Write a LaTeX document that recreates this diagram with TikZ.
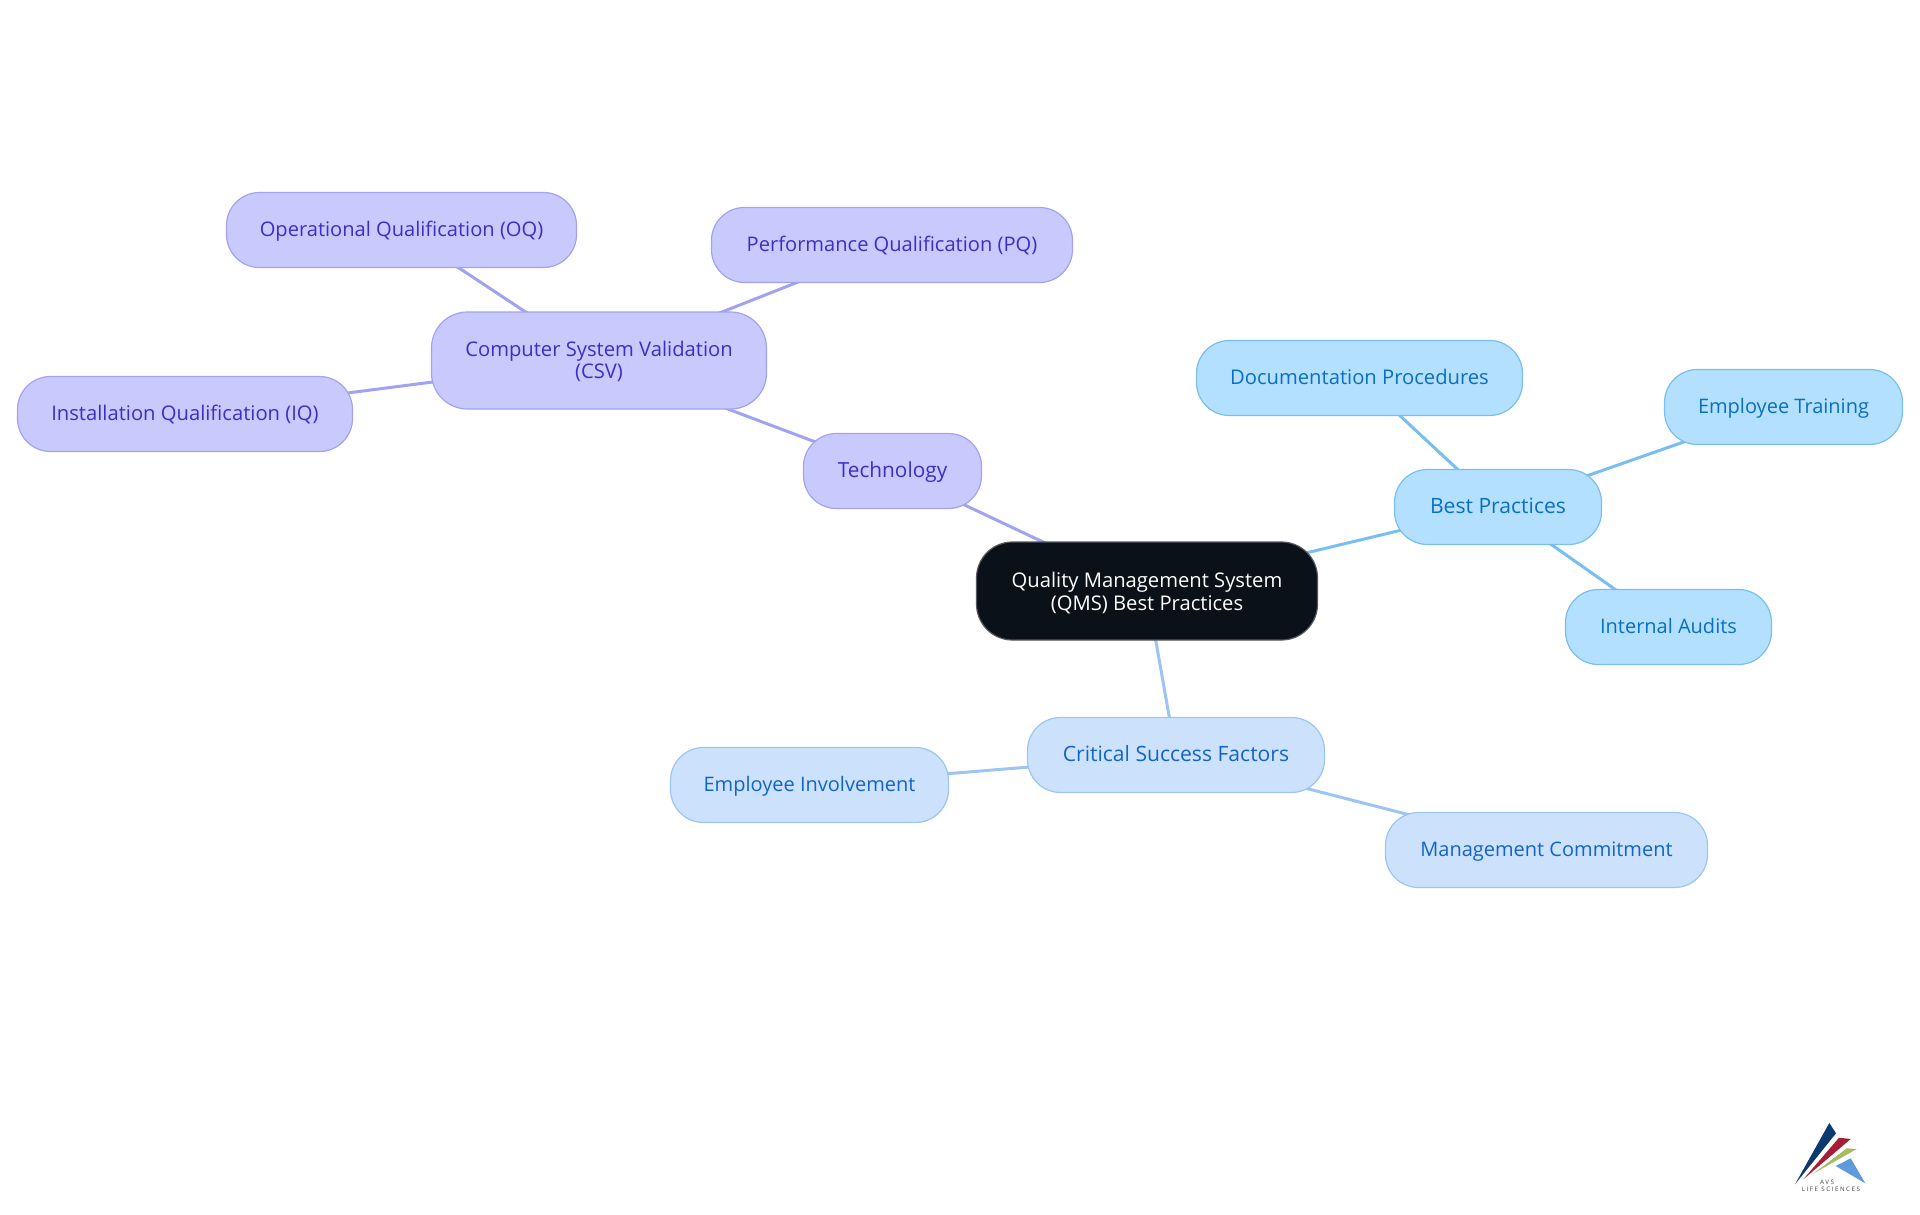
\documentclass[tikz,border=0pt]{standalone}
\usepackage{fontspec}
\setmainfont{Open Sans}
\newfontfamily\logofont[LetterSpace=25]{Open Sans}
\usetikzlibrary{backgrounds}
\definecolor{rootfill}{HTML}{0B1119}
\definecolor{rootline}{HTML}{55585E}
\definecolor{purfill}{HTML}{C8CAFD}
\definecolor{purline}{HTML}{A2A2F3}
\definecolor{purtext}{HTML}{3A30C8}
\definecolor{skyfill}{HTML}{B4E0FF}
\definecolor{skyline}{HTML}{78BEF0}
\definecolor{skytext}{HTML}{0A70BE}
\definecolor{bluefill}{HTML}{CCE2FC}
\definecolor{blueline}{HTML}{9CC5F3}
\definecolor{bluetext}{HTML}{1464C8}
\definecolor{logoA}{HTML}{0B3A70}
\definecolor{logoB}{HTML}{A51E36}
\definecolor{logoC}{HTML}{A6BC62}
\definecolor{logoD}{HTML}{5F9BDB}
\tikzset{
  x=1pt,y=-1pt,
  mm/.style={rounded corners=33pt,line width=1.2pt,inner sep=0pt,align=center,
    font=\fontsize{20}{22.6}\selectfont},
  fs/.style={font=\fontsize{#1}{22.6}\selectfont},
  single/.style={minimum height=75pt,text height=17.5pt,text depth=4.7pt},
  rootnode/.style={mm,draw=rootline,fill=rootfill,text=white},
  purnode/.style={mm,draw=purline,fill=purfill,text=purtext},
  skynode/.style={mm,draw=skyline,fill=skyfill,text=skytext},
  bluenode/.style={mm,draw=blueline,fill=bluefill,text=bluetext},
  puredge/.style={draw=purline,line width=3pt},
  skyedge/.style={draw=skyline,line width=3pt},
  blueedge/.style={draw=blueline,line width=3pt},
  logotext/.style={inner sep=0pt,text=black!75,font=\logofont\fontsize{6.2}{7}\selectfont},
}
\begin{document}
\begin{tikzpicture}
\useasboundingbox (0,0) rectangle (1920,1215);
\node[rootnode,fs=20.2,minimum width=341pt,minimum height=98pt,rounded corners=36pt] (root) at (1147,591) {\rule{0pt}{19pt}Quality Management System\\(QMS) Best Practices};
\node[purnode,single,fs=20.8,minimum width=178pt] (tech) at (892.5,471) {Technology};
\node[purnode,fs=20.2,minimum width=335pt,minimum height=97pt,rounded corners=36pt] (csv) at (599,360.5) {\rule{0pt}{17pt}Computer System Validation\\(CSV)};
\node[purnode,single,fs=20.1,minimum width=350pt] (oq) at (401.5,230) {Operational Qualification (OQ)};
\node[purnode,single,fs=20.1,minimum width=361pt] (pq) at (892,245) {Performance Qualification (PQ)};
\node[purnode,single,fs=20.2,minimum width=335pt] (iq) at (185,414) {Installation Qualification (IQ)};
\node[skynode,single,fs=21.1,minimum width=207pt] (best) at (1498,507) {Best Practices};
\node[skynode,single,fs=20.2,minimum width=326pt] (doc) at (1359.5,378) {Documentation Procedures};
\node[skynode,single,fs=20,minimum width=238pt] (train) at (1783.5,407) {Employee Training};
\node[skynode,single,fs=20,minimum width=206pt] (audit) at (1668.5,627) {Internal Audits};
\node[bluenode,single,fs=21.1,minimum width=297pt] (csf) at (1176,755) {Critical Success Factors};
\node[bluenode,single,fs=20,minimum width=278pt] (inv) at (809.5,785) {Employee Involvement};
\node[bluenode,single,fs=20,minimum width=322pt] (mgmt) at (1546.5,850) {Management Commitment};
\begin{scope}[on background layer]
\draw[puredge] (root.center) -- (tech.center);
\draw[puredge] (tech.center) -- (csv.center);
\draw[puredge] (csv.center) -- (oq.center);
\draw[puredge] (csv.center) -- (pq.center);
\draw[puredge] (csv.center) -- (iq.center);
\draw[skyedge] (root.center) -- (best.center);
\draw[skyedge] (best.center) -- (doc.center);
\draw[skyedge] (best.center) -- (train.center);
\draw[skyedge] (best.center) -- (audit.center);
\draw[blueedge] (root.center) -- (csf.center);
\draw[blueedge] (csf.center) -- (inv.center);
\draw[blueedge] (csf.center) -- (mgmt.center);
\end{scope}
\fill[logoA] (1795,1184.3) -- (1829.3,1123) -- (1836,1133.3) -- cycle;
\fill[logoB] (1803.3,1179.3) -- (1839,1137.7) -- (1850.7,1139) -- cycle;
\fill[logoC] (1812.7,1174) -- (1846.7,1148.3) -- (1856.7,1149) -- cycle;
\fill[logoD] (1835.7,1166) -- (1850.7,1158.3) -- (1865.3,1183.3) -- cycle;
\node[logotext] (avs) at (1827,1182.7) {AVS};
\node[logotext] (life) at (1831,1189) {LIFE SCIENCES};
\end{tikzpicture}
\end{document}
